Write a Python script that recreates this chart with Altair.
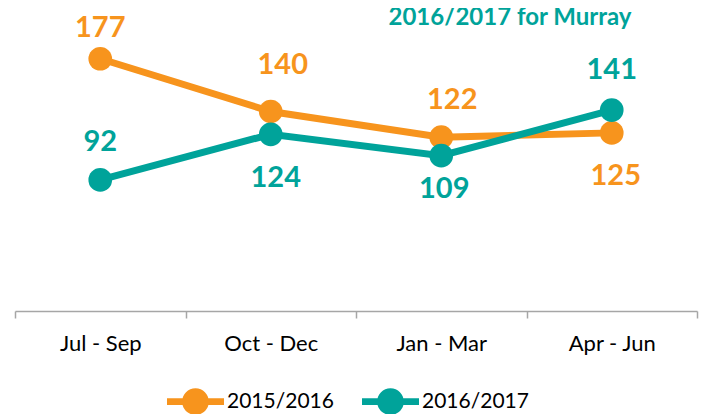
import altair as alt
import pandas as pd

quarters = ["Jul - Sep", "Oct - Dec", "Jan - Mar", "Apr - Jun"]
series_names = ["2015/2016", "2016/2017"]
values_2015 = [177, 140, 122, 125]
values_2016 = [92, 124, 109, 141]
title_text = "2016/2017 for Murray"

# label placement (pixels), kept separate from the data values
label_dx = {"2015/2016": [0, 12, 11, 4], "2016/2017": [0, 5, 3, 0]}
label_dy = {"2015/2016": [-31, -47, -37, 43], "2016/2017": [-38, 44, 33, -40]}

rows = []
for name, vals in zip(series_names, [values_2015, values_2016]):
    for q, v in zip(quarters, vals):
        rows.append({"quarter": q, "series": name, "value": v})
df = pd.DataFrame(rows)

ORANGE = "#F7941D"
TEAL = "#00A39A"
FONT = "Lato"

legend_path = ("M-1,-0.12H1V0.12H-1Z "
               "M-0.47,0A0.47,0.47,0,1,1,0.47,0A0.47,0.47,0,1,1,-0.47,0Z")

cscale = alt.Scale(domain=series_names, range=[ORANGE, TEAL])
color = alt.Color(
    "series:N",
    scale=cscale,
    legend=alt.Legend(
        title=None, orient="none", direction="horizontal",
        legendX=152, legendY=347,
        symbolType=legend_path, symbolSize=3249, symbolStrokeWidth=0,
        symbolOpacity=1, labelFont=FONT, labelFontSize=21, labelColor="#000000",
        labelOffset=3, columnPadding=28,
    ),
)

x = alt.X("quarter:N", sort=quarters, title=None,
          scale=alt.Scale(type="band", paddingInner=0, paddingOuter=0),
          axis=alt.Axis(labelAngle=0, tickBand="extent", domainColor="#A6A6A6",
                        tickColor="#A6A6A6", domainWidth=1.5, tickWidth=1.5,
                        tickSize=7, labelFont=FONT, labelFontSize=22,
                        labelColor="#000000", labelPadding=15, grid=False))
y = alt.Y("value:Q", scale=alt.Scale(domain=[0, 200], nice=False), axis=None)

base = alt.Chart(df).encode(x=x, y=y)

points = base.mark_point(filled=True, size=560, opacity=1).encode(color=color)
lines = base.mark_line(strokeWidth=7).encode(color=color, detail="series:N")

label_layers = []
for name, col in zip(series_names, [ORANGE, TEAL]):
    for i, q in enumerate(quarters):
        label_layers.append(
            base.transform_filter(
                (alt.datum.series == name) & (alt.datum.quarter == q)
            ).mark_text(font=FONT, fontWeight="bold", fontSize=29, baseline="middle",
                        color=col, dx=label_dx[name][i], dy=label_dy[name][i])
            .encode(text="value:Q")
        )

title_df = pd.DataFrame({"t": [title_text]})
title = alt.Chart(title_df).mark_text(
    font=FONT, fontWeight="bold", fontSize=24, color=TEAL, align="center",
    baseline="alphabetic").encode(text="t:N", x=alt.value(495), y=alt.value(-1))

chart = alt.layer(lines, points, *label_layers, title).properties(
    width=682, height=285,
    padding={"left": 7, "top": 18, "right": 2, "bottom": 103},
    autosize=alt.AutoSizeParams(type="none"),
).configure_view(stroke=None)

chart.save("out.html", embed_options={"renderer": "svg", "actions": False})
